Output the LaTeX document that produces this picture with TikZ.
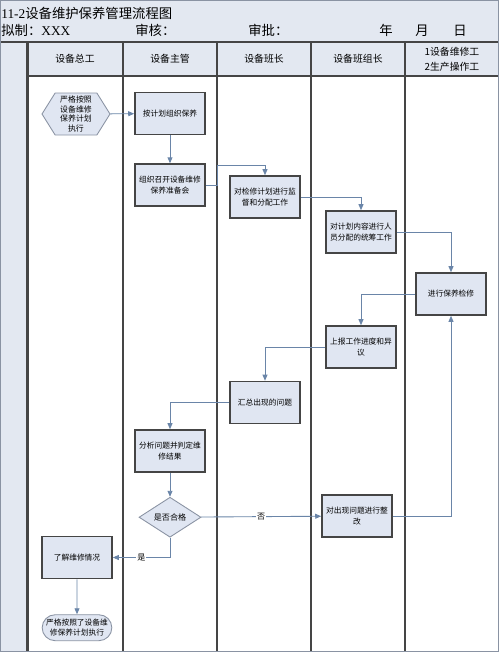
\documentclass[tikz,border=0pt]{standalone}
\usepackage{fontspec}
\setmainfont{Liberation Serif}
\newfontfamily\cjk{Noto Sans CJK SC}
\usetikzlibrary{positioning,arrows.meta,shapes.geometric,shapes.symbols,shapes.misc}
\definecolor{bandblue}{HTML}{E3E8F1}
\definecolor{boxblue}{HTML}{E0E6F2}
\definecolor{linkblue}{HTML}{6A85A8}
\definecolor{tipblue}{HTML}{4A6A96}
\definecolor{rulegray}{HTML}{454545}
\definecolor{edgegray}{HTML}{8A93A3}

\begin{document}
\begin{tikzpicture}[x=0.02cm, y=-0.02cm,
    task/.style={draw=rulegray, line width=0.9pt, fill=boxblue, minimum width=1.4cm, minimum height=0.84cm, align=center, inner sep=1pt, font=\cjk\fontsize{4.4}{6.6}\selectfont},
    startbox/.style={shape=signal, signal to=west and east, signal pointer angle=116, draw=edgegray, line width=0.5pt, fill=boxblue, minimum width=1.36cm, minimum height=0.84cm, inner sep=0.5pt, align=center, font=\cjk\fontsize{4.5}{5.5}\selectfont},
    check/.style={diamond, draw=edgegray, line width=0.5pt, fill=boxblue, minimum width=1.24cm, minimum height=0.8cm, inner sep=0pt, font=\cjk\fontsize{4.6}{6}\selectfont},
    endbox/.style={rounded rectangle, draw=edgegray, line width=0.5pt, fill=boxblue, minimum width=1.38cm, minimum height=0.52cm, inner sep=0.5pt, align=center, font=\cjk\fontsize{4.4}{5.4}\selectfont},
    lanehead/.style={align=center, font=\cjk\fontsize{5.6}{8.6}\selectfont},
    headtext/.style={anchor=west, inner sep=0pt, font=\fontsize{7.6}{9}\selectfont},
    arrow/.style={-{Triangle[length=3.4pt, width=2.8pt]}, draw=linkblue, line width=0.5pt},
    tag/.style={fill=white, inner sep=0.6pt, font=\cjk\fontsize{4.6}{6}\selectfont},
]
\useasboundingbox (0,0) rectangle (500,653);
% frame and swimlanes
\fill[bandblue] (0,0) rectangle (498,76);
\fill[bandblue] (0,76) rectangle (27.5,651);
\draw[rulegray, line width=0.7pt] (0,42) -- (498,42);
\draw[rulegray, line width=0.7pt] (27.5,76) -- (498,76);
\draw[rulegray, line width=1.3pt] (27.5,42) -- (27.5,651);
\foreach \lx in {123,217,311,405}
    \draw[rulegray, line width=0.8pt] (\lx,42) -- (\lx,651);
\draw[edgegray, line width=1pt] (0.5,0.5) rectangle (498.5,651.5);

% title rows
\node[headtext] (title) at (1,13) {11-2{\cjk 设备维护保养管理流程图}};
\node[headtext] (drawn) at (1,30.5) {{\cjk 拟制：}XXX};
\node[headtext] (review) at (135,30.5) {\cjk 审核：};
\node[headtext] (approve) at (248,30.5) {\cjk 审批：};
\node[headtext, anchor=center] (year) at (386,30.5) {\cjk 年};
\node[headtext, anchor=center] (month) at (422,30.5) {\cjk 月};
\node[headtext, anchor=center] (day) at (460,30.5) {\cjk 日};

% lane heads
\node[lanehead] (h1) at (75,59) {设备总工};
\node[lanehead] (h2) at (170,59) {设备主管};
\node[lanehead] (h3) at (264,59) {设备班长};
\node[lanehead] (h4) at (358,59) {设备班组长};
\node[lanehead] (h5) at (452,59.5) {1设备维修工\\2生产操作工};

% steps
\node[startbox] (plan) at (76,114) {严格按照\\设备维修\\保养计划\\执行};
\node[task] (org) at (170,113.5) {按计划组织保养};
\node[task, below=0.56cm of org] (meet) {组织召开设备维修\\保养准备会};
\node[task] (supv) at (265,197) {对检修计划进行监\\督和分配工作};
\node[task] (assign) at (361,232) {对计划内容进行人\\员分配的统筹工作};
\node[task] (maint) at (451,294) {进行保养检修};
\node[task] (report) at (361,347) {上报工作进度和异\\议};
\node[task] (sumup) at (265,402.5) {汇总出现的问题};
\node[task] (judge) at (170,451) {分析问题并判定维\\修结果};
\node[check, below=0.48cm of judge] (pass) {是否合格};
\node[task] (fix) at (357,516) {对出现问题进行整\\改};
\node[task] (learn) at (77,557.5) {了解维修情况};
\node[endbox, below=0.7cm of learn] (done) {严格按照了设备维\\修保养计划执行};

% connectors
\coordinate (k1) at (217,165);
\draw[arrow] (plan) -- (org);
\draw[arrow] (org) -- (meet);
\draw[arrow] (meet.east) -| (k1) -| (supv.north);
\draw[arrow] (supv.east) -| (assign.north);
\draw[arrow] (assign.east) -| (maint.north);
\draw[arrow] (maint.west) -| (report.north);
\draw[arrow] (report.west) -| (sumup.north);
\draw[arrow] (sumup.west) -| (judge.north);
\draw[arrow] (judge) -- (pass);
\draw[arrow] (pass) -- node[tag, pos=0.5] (no) {否} (fix);
\draw[arrow] (fix.east) -| (maint.south);
\draw[arrow] (pass.south) |- node[tag, pos=0.75] (yes) {是} (learn.east);
\draw[arrow] (learn) -- (done);
\end{tikzpicture}
\end{document}
